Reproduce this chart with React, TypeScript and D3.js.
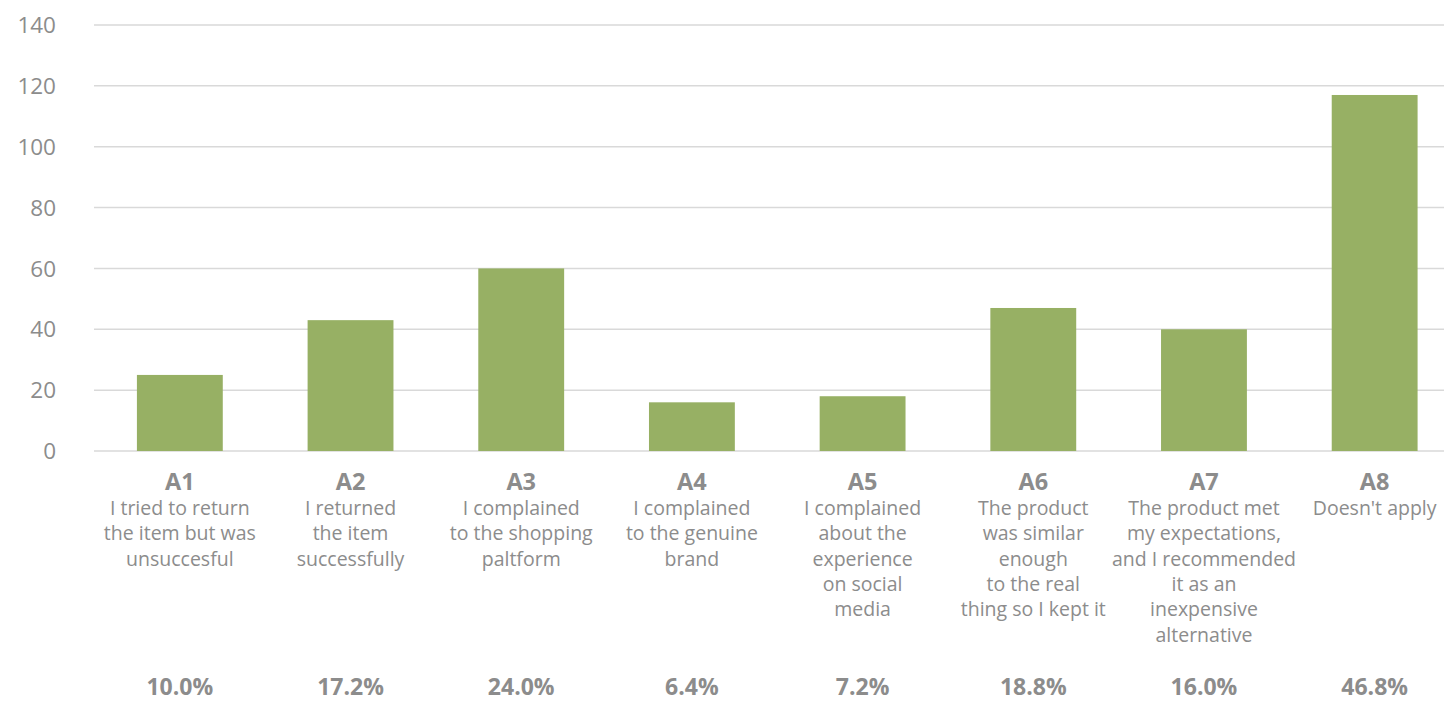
import React from "react";
import * as d3 from "d3";

const codes = ["A1", "A2", "A3", "A4", "A5", "A6", "A7", "A8"];
const descriptions: string[][] = [
  ["I tried to return", "the item but was", "unsuccesful"],
  ["I returned", "the item", "successfully"],
  ["I complained", "to the shopping", "paltform"],
  ["I complained", "to the genuine", "brand"],
  ["I complained", "about the", "experience", "on social", "media"],
  ["The product", "was similar", "enough", "to the real", "thing so I kept it"],
  ["The product met", "my expectations,", "and I recommended", "it as an", "inexpensive", "alternative"],
  ["Doesn't apply"],
];
const values = [25, 43, 60, 16, 18, 47, 40, 117];
const percents = ["10.0%", "17.2%", "24.0%", "6.4%", "7.2%", "18.8%", "16.0%", "46.8%"];
const yTicks = [0, 20, 40, 60, 80, 100, 120, 140];

const W = 1444;
const H = 701;
const FONT = "'Open Sans', Lato, sans-serif";
const TEXT = "#8c8c8c";

export default function App() {
  const x = d3.scaleBand<string>().domain(codes).range([94.5, 1460]).paddingInner(0.497).paddingOuter(0.2485);
  const y = d3.scaleLinear().domain([0, 140]).range([451, 25]);
  const bw = x.bandwidth();
  return (
    <svg width={W} height={H} style={{ position: "absolute", left: 0, top: 0, background: "#fff" }}>
      {yTicks.map((t) => (
        <g key={t}>
          <line x1={94} x2={W} y1={y(t)} y2={y(t)} stroke="#d9d9d9" strokeWidth={1.5} />
          <text x={56} y={y(t)} dy="0.36em" textAnchor="end" fontFamily={FONT} fontSize={22.5} fill={TEXT}>
            {t}
          </text>
        </g>
      ))}
      {codes.map((c, i) => (
        <rect key={c} x={x(c)} y={y(values[i])} width={bw} height={y(0) - y(values[i])} fill="#97b064" />
      ))}
      {codes.map((c, i) => {
        const cx = (x(c) as number) + bw / 2;
        return (
          <g key={c} fontFamily={FONT} fill={TEXT} textAnchor="middle">
            <text x={cx} y={490} fontSize={23.5} fontWeight="bold">{c}</text>
            {descriptions[i].map((line, j) => (
              <text key={j} x={cx} y={515 + j * 25.3} fontSize={19.5}>{line}</text>
            ))}
            <text x={cx} y={695} fontSize={23} fontWeight="bold">{percents[i]}</text>
          </g>
        );
      })}
    </svg>
  );
}
